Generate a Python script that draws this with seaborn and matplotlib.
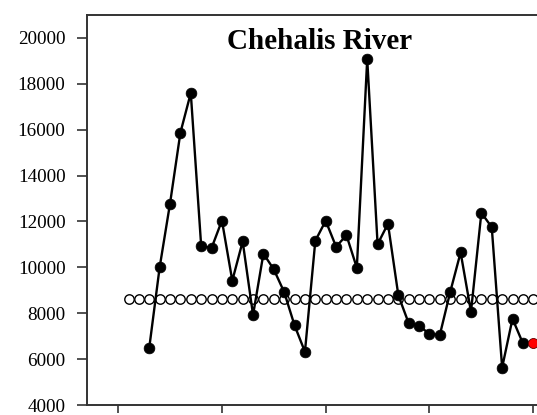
import matplotlib
matplotlib.use("Agg")
import matplotlib.pyplot as plt
import seaborn as sns
import pandas as pd

years = list(range(1973, 2011))
flow = [6500, 10000, 12780, 15870, 17600, 10940, 10840, 12040, 9420, 11130,
        7920, 10600, 9910, 8920, 7470, 6320, 11160, 12030, 10900, 11400,
        9980, 19080, 11010, 11900, 8780, 7560, 7460, 7090, 7060, 8930,
        10650, 8065, 12380, 11750, 5630, 7760, 6690, 6710]
mean_years = list(range(1971, 2011))
mean_value = 8630
title = "Chehalis River"
y_ticks = [4000, 6000, 8000, 10000, 12000, 14000, 16000, 18000, 20000]
x_ticks = [1970, 1980, 1990, 2000, 2010]

sns.set_theme(style="white")
plt.rcParams['font.family'] = ['Liberation Serif', 'DejaVu Serif']

df = pd.DataFrame({"year": years, "flow": flow})
dm = pd.DataFrame({"year": mean_years, "flow": [mean_value] * len(mean_years)})
df_black = df.iloc[:-1]
df_red = df.iloc[-1:]

fig = plt.figure(figsize=(5.37, 4.15), dpi=100)
ax = fig.add_axes([87 / 537, 10 / 415, 450 / 537, 390 / 415])

sns.scatterplot(data=dm, x="year", y="flow", ax=ax, marker="o", s=46,
                facecolor="white", edgecolor="black", linewidth=1.0, zorder=2)
sns.lineplot(data=df, x="year", y="flow", ax=ax, color="black", linewidth=1.7,
             zorder=3)
sns.scatterplot(data=df_black, x="year", y="flow", ax=ax, marker="o", s=60,
                color="black", edgecolor="black", linewidth=0.5, zorder=4)
sns.scatterplot(data=df_red, x="year", y="flow", ax=ax, marker="o", s=52,
                color="red", edgecolor="#600000", linewidth=0.6, zorder=5)

ax.set_xlim(1967, 2010.36)
ax.set_ylim(4000, 21000)
ax.set_xticks(x_ticks)
ax.set_xticklabels([])
ax.set_yticks(y_ticks)
ax.set_yticklabels([str(v) for v in y_ticks])
ax.set_xlabel("")
ax.set_ylabel("")
ax.tick_params(axis="both", direction="out", width=1.2,
               color="#333333", labelsize=13.8, labelcolor="black")
ax.tick_params(axis="x", length=6)
ax.tick_params(axis="y", length=7.5, pad=8)
ax.yaxis.set_ticks_position("left")
ax.xaxis.set_ticks_position("bottom")

for side in ["left", "top", "bottom"]:
    ax.spines[side].set_visible(True)
    ax.spines[side].set_color("#333333")
    ax.spines[side].set_linewidth(1.4)
ax.spines["right"].set_visible(False)

ax.text(0.516, 0.931, title, transform=ax.transAxes, ha="center", va="center",
        fontsize=21, fontweight="bold", color="black")

fig.savefig("out.png", dpi=100)
